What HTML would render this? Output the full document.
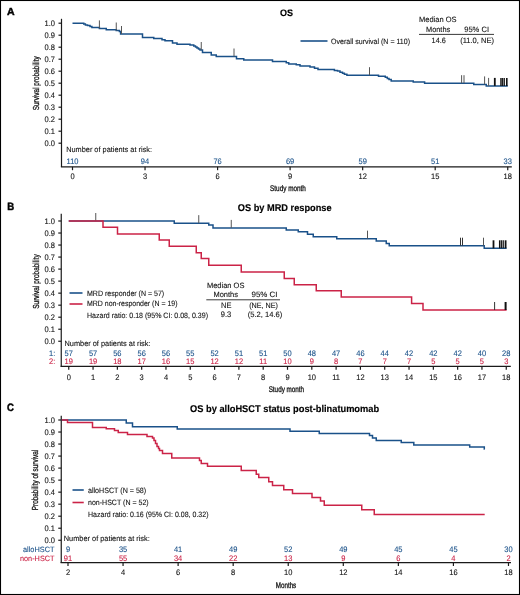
<!DOCTYPE html>
<html><head><meta charset="utf-8"><title>Kaplan-Meier survival curves</title>
<style>
html,body{margin:0;padding:0;background:#fff;}
body{width:520px;height:595px;overflow:hidden;}
svg{display:block;will-change:transform;}
text{font-family:"Liberation Sans", sans-serif;text-rendering:geometricPrecision;}
</style></head>
<body>
<svg width="520" height="595" viewBox="0 0 520 595">
<rect x="0" y="0" width="520" height="595" fill="#fff"/>
<rect x="0.5" y="0.5" width="519" height="594" fill="none" stroke="#000" stroke-width="1.1"/>
<text x="6.9" y="14.8" font-size="10.2" fill="#000" font-weight="bold" textLength="7.6" lengthAdjust="spacingAndGlyphs" stroke="#000" stroke-width="0.45">A</text>
<text x="280.1" y="15.5" font-size="9.4" fill="#000" font-weight="bold" textLength="13" lengthAdjust="spacingAndGlyphs" stroke="#000" stroke-width="0.15">OS</text>
<line x1="61.5" y1="18.8" x2="61.5" y2="167" stroke="#1a1a1a" stroke-width="1.2"/>
<line x1="58.5" y1="23.2" x2="61.5" y2="23.2" stroke="#1a1a1a" stroke-width="1.2"/>
<text x="55" y="25.9" font-size="8.0" fill="#111" text-anchor="end" textLength="10.43" lengthAdjust="spacingAndGlyphs" stroke="#111" stroke-width="0.1">1.0</text>
<line x1="58.5" y1="35.199999999999996" x2="61.5" y2="35.199999999999996" stroke="#1a1a1a" stroke-width="1.2"/>
<text x="55" y="37.9" font-size="8.0" fill="#111" text-anchor="end" textLength="10.43" lengthAdjust="spacingAndGlyphs" stroke="#111" stroke-width="0.1">0.9</text>
<line x1="58.5" y1="47.199999999999996" x2="61.5" y2="47.199999999999996" stroke="#1a1a1a" stroke-width="1.2"/>
<text x="55" y="49.9" font-size="8.0" fill="#111" text-anchor="end" textLength="10.43" lengthAdjust="spacingAndGlyphs" stroke="#111" stroke-width="0.1">0.8</text>
<line x1="58.5" y1="59.19999999999999" x2="61.5" y2="59.19999999999999" stroke="#1a1a1a" stroke-width="1.2"/>
<text x="55" y="61.9" font-size="8.0" fill="#111" text-anchor="end" textLength="10.43" lengthAdjust="spacingAndGlyphs" stroke="#111" stroke-width="0.1">0.7</text>
<line x1="58.5" y1="71.19999999999999" x2="61.5" y2="71.19999999999999" stroke="#1a1a1a" stroke-width="1.2"/>
<text x="55" y="73.9" font-size="8.0" fill="#111" text-anchor="end" textLength="10.43" lengthAdjust="spacingAndGlyphs" stroke="#111" stroke-width="0.1">0.6</text>
<line x1="58.5" y1="83.19999999999999" x2="61.5" y2="83.19999999999999" stroke="#1a1a1a" stroke-width="1.2"/>
<text x="55" y="85.9" font-size="8.0" fill="#111" text-anchor="end" textLength="10.43" lengthAdjust="spacingAndGlyphs" stroke="#111" stroke-width="0.1">0.5</text>
<line x1="58.5" y1="95.19999999999999" x2="61.5" y2="95.19999999999999" stroke="#1a1a1a" stroke-width="1.2"/>
<text x="55" y="97.9" font-size="8.0" fill="#111" text-anchor="end" textLength="10.43" lengthAdjust="spacingAndGlyphs" stroke="#111" stroke-width="0.1">0.4</text>
<line x1="58.5" y1="107.19999999999999" x2="61.5" y2="107.19999999999999" stroke="#1a1a1a" stroke-width="1.2"/>
<text x="55" y="109.9" font-size="8.0" fill="#111" text-anchor="end" textLength="10.43" lengthAdjust="spacingAndGlyphs" stroke="#111" stroke-width="0.1">0.3</text>
<line x1="58.5" y1="119.19999999999999" x2="61.5" y2="119.19999999999999" stroke="#1a1a1a" stroke-width="1.2"/>
<text x="55" y="121.9" font-size="8.0" fill="#111" text-anchor="end" textLength="10.43" lengthAdjust="spacingAndGlyphs" stroke="#111" stroke-width="0.1">0.2</text>
<line x1="58.5" y1="131.19999999999996" x2="61.5" y2="131.19999999999996" stroke="#1a1a1a" stroke-width="1.2"/>
<text x="55" y="133.9" font-size="8.0" fill="#111" text-anchor="end" textLength="10.43" lengthAdjust="spacingAndGlyphs" stroke="#111" stroke-width="0.1">0.1</text>
<line x1="58.5" y1="143.19999999999996" x2="61.5" y2="143.19999999999996" stroke="#1a1a1a" stroke-width="1.2"/>
<text x="55" y="145.9" font-size="8.0" fill="#111" text-anchor="end" textLength="10.43" lengthAdjust="spacingAndGlyphs" stroke="#111" stroke-width="0.1">0.0</text>
<line x1="60.9" y1="166.8" x2="511.8" y2="166.8" stroke="#1a1a1a" stroke-width="1.2"/>
<line x1="72.5" y1="166.8" x2="72.5" y2="170.2" stroke="#1a1a1a" stroke-width="1.2"/>
<text x="72.5" y="178.6" font-size="8.0" fill="#111" text-anchor="middle" textLength="4.17" lengthAdjust="spacingAndGlyphs" stroke="#111" stroke-width="0.1">0</text>
<line x1="145.04" y1="166.8" x2="145.04" y2="170.2" stroke="#1a1a1a" stroke-width="1.2"/>
<text x="145.04" y="178.6" font-size="8.0" fill="#111" text-anchor="middle" textLength="4.17" lengthAdjust="spacingAndGlyphs" stroke="#111" stroke-width="0.1">3</text>
<line x1="217.57999999999998" y1="166.8" x2="217.57999999999998" y2="170.2" stroke="#1a1a1a" stroke-width="1.2"/>
<text x="217.58" y="178.6" font-size="8.0" fill="#111" text-anchor="middle" textLength="4.17" lengthAdjust="spacingAndGlyphs" stroke="#111" stroke-width="0.1">6</text>
<line x1="290.12" y1="166.8" x2="290.12" y2="170.2" stroke="#1a1a1a" stroke-width="1.2"/>
<text x="290.12" y="178.6" font-size="8.0" fill="#111" text-anchor="middle" textLength="4.17" lengthAdjust="spacingAndGlyphs" stroke="#111" stroke-width="0.1">9</text>
<line x1="362.65999999999997" y1="166.8" x2="362.65999999999997" y2="170.2" stroke="#1a1a1a" stroke-width="1.2"/>
<text x="362.66" y="178.6" font-size="8.0" fill="#111" text-anchor="middle" textLength="8.34" lengthAdjust="spacingAndGlyphs" stroke="#111" stroke-width="0.1">12</text>
<line x1="435.2" y1="166.8" x2="435.2" y2="170.2" stroke="#1a1a1a" stroke-width="1.2"/>
<text x="435.2" y="178.6" font-size="8.0" fill="#111" text-anchor="middle" textLength="8.34" lengthAdjust="spacingAndGlyphs" stroke="#111" stroke-width="0.1">15</text>
<line x1="507.74" y1="166.8" x2="507.74" y2="170.2" stroke="#1a1a1a" stroke-width="1.2"/>
<text x="507.74" y="178.6" font-size="8.0" fill="#111" text-anchor="middle" textLength="8.34" lengthAdjust="spacingAndGlyphs" stroke="#111" stroke-width="0.1">18</text>
<text x="288" y="191" font-size="8.2" fill="#111" text-anchor="middle" textLength="35.8" lengthAdjust="spacingAndGlyphs" stroke="#111" stroke-width="0.3">Study month</text>
<text x="0" y="0" font-size="8.7" fill="#111" text-anchor="middle" textLength="54" lengthAdjust="spacingAndGlyphs" stroke="#111" stroke-width="0.3" transform="translate(39.2,83.3) rotate(-90)">Survival probability</text>
<text x="66.2" y="151.5" font-size="7.7" fill="#111" textLength="85.8" lengthAdjust="spacingAndGlyphs" stroke="#111" stroke-width="0.1">Number of patients at risk:</text>
<text x="72.5" y="163.6" font-size="8.0" fill="#1a5189" text-anchor="middle" textLength="11.96" lengthAdjust="spacingAndGlyphs" stroke="#1a5189" stroke-width="0.1">110</text>
<text x="145.04" y="163.6" font-size="8.0" fill="#1a5189" text-anchor="middle" textLength="8.34" lengthAdjust="spacingAndGlyphs" stroke="#1a5189" stroke-width="0.1">94</text>
<text x="217.58" y="163.6" font-size="8.0" fill="#1a5189" text-anchor="middle" textLength="8.34" lengthAdjust="spacingAndGlyphs" stroke="#1a5189" stroke-width="0.1">76</text>
<text x="290.12" y="163.6" font-size="8.0" fill="#1a5189" text-anchor="middle" textLength="8.34" lengthAdjust="spacingAndGlyphs" stroke="#1a5189" stroke-width="0.1">69</text>
<text x="362.66" y="163.6" font-size="8.0" fill="#1a5189" text-anchor="middle" textLength="8.34" lengthAdjust="spacingAndGlyphs" stroke="#1a5189" stroke-width="0.1">59</text>
<text x="435.2" y="163.6" font-size="8.0" fill="#1a5189" text-anchor="middle" textLength="8.34" lengthAdjust="spacingAndGlyphs" stroke="#1a5189" stroke-width="0.1">51</text>
<text x="507.74" y="163.6" font-size="8.0" fill="#1a5189" text-anchor="middle" textLength="8.34" lengthAdjust="spacingAndGlyphs" stroke="#1a5189" stroke-width="0.1">33</text>
<line x1="300.5" y1="41" x2="327.5" y2="41" stroke="#1a5189" stroke-width="1.6"/>
<text x="331" y="43.8" font-size="7.7" fill="#111" textLength="79" lengthAdjust="spacingAndGlyphs" stroke="#111" stroke-width="0.1">Overall survival (N = 110)</text>
<text x="419" y="22.3" font-size="7.7" fill="#111" textLength="37.6" lengthAdjust="spacingAndGlyphs" stroke="#111" stroke-width="0.1">Median OS</text>
<text x="426" y="31.8" font-size="7.7" fill="#111" textLength="24.2" lengthAdjust="spacingAndGlyphs" stroke="#111" stroke-width="0.1">Months</text>
<text x="464.2" y="31.8" font-size="7.7" fill="#111" textLength="24.8" lengthAdjust="spacingAndGlyphs" stroke="#111" stroke-width="0.1">95% CI</text>
<line x1="419" y1="34.4" x2="494" y2="34.4" stroke="#222" stroke-width="0.9"/>
<text x="431.6" y="42.7" font-size="7.7" fill="#111" textLength="14.2" lengthAdjust="spacingAndGlyphs" stroke="#111" stroke-width="0.1">14.6</text>
<text x="460.2" y="42.7" font-size="7.7" fill="#111" textLength="33.8" lengthAdjust="spacingAndGlyphs" stroke="#111" stroke-width="0.1">(11.0, NE)</text>
<path d="M72.5,23.3H83.75V24.1H85.4V24.9H87.5V25.6H90V26.5H91.9V27.4H99.4V28.4H106.25V29.75H116.25V30.5H119.4V31.4H120.6V34H142.5V37.5H153.75V38.5H162V39.75H165V40.75H172.5V43H177V44.25H190V45H193.75V46H195.5V47H197V48H198.5V49H200V50H202.5V52.5H211.25V55H216.25V56.5H236.5V58.8H243.75V60.1H272.5V61.5H286.25V62.8H288.75V64.0H296.25V64.8H300V66.1H310V67.1H314.5V68.3H318V69.6H334.4V70.5H337.5V71.1H340V72.2H342.5V73.3H344.4V74.3H346.9V75.2H378.5V76.2H385.3V77.3H387.3V78.5H389V79.5H391.2V80.9H413.25V82H424.6V83.2H473.75V84.4H486.25V85.9H507.75" fill="none" stroke="#1a5189" stroke-width="1.5"/>
<line x1="99.4" y1="28.4" x2="99.4" y2="20.4" stroke="#555" stroke-width="1"/>
<line x1="116.25" y1="30.5" x2="116.25" y2="22.5" stroke="#555" stroke-width="1"/>
<line x1="121.5" y1="34" x2="121.5" y2="26" stroke="#555" stroke-width="1"/>
<line x1="201.25" y1="50" x2="201.25" y2="42" stroke="#555" stroke-width="1"/>
<line x1="234" y1="56.5" x2="234" y2="48.5" stroke="#555" stroke-width="1"/>
<line x1="369.5" y1="75.2" x2="369.5" y2="67.2" stroke="#555" stroke-width="1"/>
<line x1="461.6" y1="83.2" x2="461.6" y2="75.2" stroke="#555" stroke-width="1"/>
<line x1="464" y1="83.2" x2="464" y2="75.2" stroke="#555" stroke-width="1"/>
<line x1="484.6" y1="84.4" x2="484.6" y2="76.4" stroke="#555" stroke-width="1"/>
<line x1="488.6" y1="85.9" x2="488.6" y2="77.9" stroke="#555" stroke-width="1"/>
<line x1="494.8" y1="85.9" x2="494.8" y2="77.9" stroke="#111" stroke-width="1.8"/>
<line x1="500.9" y1="85.9" x2="500.9" y2="77.9" stroke="#111" stroke-width="1.3"/>
<line x1="502.3" y1="85.9" x2="502.3" y2="77.9" stroke="#111" stroke-width="1.3"/>
<line x1="504.2" y1="85.9" x2="504.2" y2="77.9" stroke="#111" stroke-width="1.4"/>
<line x1="506.8" y1="85.9" x2="506.8" y2="77.9" stroke="#111" stroke-width="1.6"/>
<text x="7.3" y="210.15" font-size="10.6" fill="#000" font-weight="bold" textLength="6.9" lengthAdjust="spacingAndGlyphs" stroke="#000" stroke-width="0.45">B</text>
<text x="237.8" y="210.9" font-size="9.8" fill="#000" font-weight="bold" textLength="93.8" lengthAdjust="spacingAndGlyphs" stroke="#000" stroke-width="0.15">OS by MRD response</text>
<line x1="61.25" y1="213.75" x2="61.25" y2="366.8" stroke="#1a1a1a" stroke-width="1.2"/>
<line x1="58.25" y1="221.0" x2="61.25" y2="221.0" stroke="#1a1a1a" stroke-width="1.2"/>
<text x="55" y="223.7" font-size="8.0" fill="#111" text-anchor="end" textLength="10.43" lengthAdjust="spacingAndGlyphs" stroke="#111" stroke-width="0.1">1.0</text>
<line x1="58.25" y1="233.025" x2="61.25" y2="233.025" stroke="#1a1a1a" stroke-width="1.2"/>
<text x="55" y="235.72" font-size="8.0" fill="#111" text-anchor="end" textLength="10.43" lengthAdjust="spacingAndGlyphs" stroke="#111" stroke-width="0.1">0.9</text>
<line x1="58.25" y1="245.05" x2="61.25" y2="245.05" stroke="#1a1a1a" stroke-width="1.2"/>
<text x="55" y="247.75" font-size="8.0" fill="#111" text-anchor="end" textLength="10.43" lengthAdjust="spacingAndGlyphs" stroke="#111" stroke-width="0.1">0.8</text>
<line x1="58.25" y1="257.075" x2="61.25" y2="257.075" stroke="#1a1a1a" stroke-width="1.2"/>
<text x="55" y="259.77" font-size="8.0" fill="#111" text-anchor="end" textLength="10.43" lengthAdjust="spacingAndGlyphs" stroke="#111" stroke-width="0.1">0.7</text>
<line x1="58.25" y1="269.1" x2="61.25" y2="269.1" stroke="#1a1a1a" stroke-width="1.2"/>
<text x="55" y="271.8" font-size="8.0" fill="#111" text-anchor="end" textLength="10.43" lengthAdjust="spacingAndGlyphs" stroke="#111" stroke-width="0.1">0.6</text>
<line x1="58.25" y1="281.125" x2="61.25" y2="281.125" stroke="#1a1a1a" stroke-width="1.2"/>
<text x="55" y="283.82" font-size="8.0" fill="#111" text-anchor="end" textLength="10.43" lengthAdjust="spacingAndGlyphs" stroke="#111" stroke-width="0.1">0.5</text>
<line x1="58.25" y1="293.15" x2="61.25" y2="293.15" stroke="#1a1a1a" stroke-width="1.2"/>
<text x="55" y="295.85" font-size="8.0" fill="#111" text-anchor="end" textLength="10.43" lengthAdjust="spacingAndGlyphs" stroke="#111" stroke-width="0.1">0.4</text>
<line x1="58.25" y1="305.175" x2="61.25" y2="305.175" stroke="#1a1a1a" stroke-width="1.2"/>
<text x="55" y="307.88" font-size="8.0" fill="#111" text-anchor="end" textLength="10.43" lengthAdjust="spacingAndGlyphs" stroke="#111" stroke-width="0.1">0.3</text>
<line x1="58.25" y1="317.2" x2="61.25" y2="317.2" stroke="#1a1a1a" stroke-width="1.2"/>
<text x="55" y="319.9" font-size="8.0" fill="#111" text-anchor="end" textLength="10.43" lengthAdjust="spacingAndGlyphs" stroke="#111" stroke-width="0.1">0.2</text>
<line x1="58.25" y1="329.225" x2="61.25" y2="329.225" stroke="#1a1a1a" stroke-width="1.2"/>
<text x="55" y="331.93" font-size="8.0" fill="#111" text-anchor="end" textLength="10.43" lengthAdjust="spacingAndGlyphs" stroke="#111" stroke-width="0.1">0.1</text>
<line x1="58.25" y1="341.25" x2="61.25" y2="341.25" stroke="#1a1a1a" stroke-width="1.2"/>
<text x="55" y="343.95" font-size="8.0" fill="#111" text-anchor="end" textLength="10.43" lengthAdjust="spacingAndGlyphs" stroke="#111" stroke-width="0.1">0.0</text>
<line x1="60.6" y1="366.4" x2="510.8" y2="366.4" stroke="#1a1a1a" stroke-width="1.2"/>
<line x1="68.75" y1="366.4" x2="68.75" y2="369.8" stroke="#1a1a1a" stroke-width="1.2"/>
<text x="68.75" y="379.8" font-size="8.0" fill="#111" text-anchor="middle" textLength="4.17" lengthAdjust="spacingAndGlyphs" stroke="#111" stroke-width="0.1">0</text>
<line x1="93.056" y1="366.4" x2="93.056" y2="369.8" stroke="#1a1a1a" stroke-width="1.2"/>
<text x="93.06" y="379.8" font-size="8.0" fill="#111" text-anchor="middle" textLength="4.17" lengthAdjust="spacingAndGlyphs" stroke="#111" stroke-width="0.1">1</text>
<line x1="117.362" y1="366.4" x2="117.362" y2="369.8" stroke="#1a1a1a" stroke-width="1.2"/>
<text x="117.36" y="379.8" font-size="8.0" fill="#111" text-anchor="middle" textLength="4.17" lengthAdjust="spacingAndGlyphs" stroke="#111" stroke-width="0.1">2</text>
<line x1="141.668" y1="366.4" x2="141.668" y2="369.8" stroke="#1a1a1a" stroke-width="1.2"/>
<text x="141.67" y="379.8" font-size="8.0" fill="#111" text-anchor="middle" textLength="4.17" lengthAdjust="spacingAndGlyphs" stroke="#111" stroke-width="0.1">3</text>
<line x1="165.974" y1="366.4" x2="165.974" y2="369.8" stroke="#1a1a1a" stroke-width="1.2"/>
<text x="165.97" y="379.8" font-size="8.0" fill="#111" text-anchor="middle" textLength="4.17" lengthAdjust="spacingAndGlyphs" stroke="#111" stroke-width="0.1">4</text>
<line x1="190.28" y1="366.4" x2="190.28" y2="369.8" stroke="#1a1a1a" stroke-width="1.2"/>
<text x="190.28" y="379.8" font-size="8.0" fill="#111" text-anchor="middle" textLength="4.17" lengthAdjust="spacingAndGlyphs" stroke="#111" stroke-width="0.1">5</text>
<line x1="214.586" y1="366.4" x2="214.586" y2="369.8" stroke="#1a1a1a" stroke-width="1.2"/>
<text x="214.59" y="379.8" font-size="8.0" fill="#111" text-anchor="middle" textLength="4.17" lengthAdjust="spacingAndGlyphs" stroke="#111" stroke-width="0.1">6</text>
<line x1="238.892" y1="366.4" x2="238.892" y2="369.8" stroke="#1a1a1a" stroke-width="1.2"/>
<text x="238.89" y="379.8" font-size="8.0" fill="#111" text-anchor="middle" textLength="4.17" lengthAdjust="spacingAndGlyphs" stroke="#111" stroke-width="0.1">7</text>
<line x1="263.198" y1="366.4" x2="263.198" y2="369.8" stroke="#1a1a1a" stroke-width="1.2"/>
<text x="263.2" y="379.8" font-size="8.0" fill="#111" text-anchor="middle" textLength="4.17" lengthAdjust="spacingAndGlyphs" stroke="#111" stroke-width="0.1">8</text>
<line x1="287.504" y1="366.4" x2="287.504" y2="369.8" stroke="#1a1a1a" stroke-width="1.2"/>
<text x="287.5" y="379.8" font-size="8.0" fill="#111" text-anchor="middle" textLength="4.17" lengthAdjust="spacingAndGlyphs" stroke="#111" stroke-width="0.1">9</text>
<line x1="311.81" y1="366.4" x2="311.81" y2="369.8" stroke="#1a1a1a" stroke-width="1.2"/>
<text x="311.81" y="379.8" font-size="8.0" fill="#111" text-anchor="middle" textLength="8.34" lengthAdjust="spacingAndGlyphs" stroke="#111" stroke-width="0.1">10</text>
<line x1="336.116" y1="366.4" x2="336.116" y2="369.8" stroke="#1a1a1a" stroke-width="1.2"/>
<text x="336.12" y="379.8" font-size="8.0" fill="#111" text-anchor="middle" textLength="7.78" lengthAdjust="spacingAndGlyphs" stroke="#111" stroke-width="0.1">11</text>
<line x1="360.422" y1="366.4" x2="360.422" y2="369.8" stroke="#1a1a1a" stroke-width="1.2"/>
<text x="360.42" y="379.8" font-size="8.0" fill="#111" text-anchor="middle" textLength="8.34" lengthAdjust="spacingAndGlyphs" stroke="#111" stroke-width="0.1">12</text>
<line x1="384.728" y1="366.4" x2="384.728" y2="369.8" stroke="#1a1a1a" stroke-width="1.2"/>
<text x="384.73" y="379.8" font-size="8.0" fill="#111" text-anchor="middle" textLength="8.34" lengthAdjust="spacingAndGlyphs" stroke="#111" stroke-width="0.1">13</text>
<line x1="409.034" y1="366.4" x2="409.034" y2="369.8" stroke="#1a1a1a" stroke-width="1.2"/>
<text x="409.03" y="379.8" font-size="8.0" fill="#111" text-anchor="middle" textLength="8.34" lengthAdjust="spacingAndGlyphs" stroke="#111" stroke-width="0.1">14</text>
<line x1="433.34000000000003" y1="366.4" x2="433.34000000000003" y2="369.8" stroke="#1a1a1a" stroke-width="1.2"/>
<text x="433.34" y="379.8" font-size="8.0" fill="#111" text-anchor="middle" textLength="8.34" lengthAdjust="spacingAndGlyphs" stroke="#111" stroke-width="0.1">15</text>
<line x1="457.646" y1="366.4" x2="457.646" y2="369.8" stroke="#1a1a1a" stroke-width="1.2"/>
<text x="457.65" y="379.8" font-size="8.0" fill="#111" text-anchor="middle" textLength="8.34" lengthAdjust="spacingAndGlyphs" stroke="#111" stroke-width="0.1">16</text>
<line x1="481.952" y1="366.4" x2="481.952" y2="369.8" stroke="#1a1a1a" stroke-width="1.2"/>
<text x="481.95" y="379.8" font-size="8.0" fill="#111" text-anchor="middle" textLength="8.34" lengthAdjust="spacingAndGlyphs" stroke="#111" stroke-width="0.1">17</text>
<line x1="506.25800000000004" y1="366.4" x2="506.25800000000004" y2="369.8" stroke="#1a1a1a" stroke-width="1.2"/>
<text x="506.26" y="379.8" font-size="8.0" fill="#111" text-anchor="middle" textLength="8.34" lengthAdjust="spacingAndGlyphs" stroke="#111" stroke-width="0.1">18</text>
<text x="286.4" y="392.1" font-size="8.2" fill="#111" text-anchor="middle" textLength="35.5" lengthAdjust="spacingAndGlyphs" stroke="#111" stroke-width="0.3">Study month</text>
<text x="0" y="0" font-size="8.7" fill="#111" text-anchor="middle" textLength="54.5" lengthAdjust="spacingAndGlyphs" stroke="#111" stroke-width="0.3" transform="translate(39.0,281.5) rotate(-90)">Survival probability</text>
<text x="64.5" y="345.5" font-size="7.7" fill="#111" textLength="86" lengthAdjust="spacingAndGlyphs" stroke="#111" stroke-width="0.1">Number of patients at risk:</text>
<text x="55.3" y="355.6" font-size="8.0" fill="#1a5189" text-anchor="end" textLength="6.25" lengthAdjust="spacingAndGlyphs" stroke="#1a5189" stroke-width="0.1">1:</text>
<text x="55.3" y="364.0" font-size="8.0" fill="#cb2347" text-anchor="end" textLength="6.25" lengthAdjust="spacingAndGlyphs" stroke="#cb2347" stroke-width="0.1">2:</text>
<text x="68.75" y="355.6" font-size="8.0" fill="#1a5189" text-anchor="middle" textLength="8.34" lengthAdjust="spacingAndGlyphs" stroke="#1a5189" stroke-width="0.1">57</text>
<text x="68.75" y="364.0" font-size="8.0" fill="#cb2347" text-anchor="middle" textLength="8.34" lengthAdjust="spacingAndGlyphs" stroke="#cb2347" stroke-width="0.1">19</text>
<text x="93.06" y="355.6" font-size="8.0" fill="#1a5189" text-anchor="middle" textLength="8.34" lengthAdjust="spacingAndGlyphs" stroke="#1a5189" stroke-width="0.1">57</text>
<text x="93.06" y="364.0" font-size="8.0" fill="#cb2347" text-anchor="middle" textLength="8.34" lengthAdjust="spacingAndGlyphs" stroke="#cb2347" stroke-width="0.1">19</text>
<text x="117.36" y="355.6" font-size="8.0" fill="#1a5189" text-anchor="middle" textLength="8.34" lengthAdjust="spacingAndGlyphs" stroke="#1a5189" stroke-width="0.1">56</text>
<text x="117.36" y="364.0" font-size="8.0" fill="#cb2347" text-anchor="middle" textLength="8.34" lengthAdjust="spacingAndGlyphs" stroke="#cb2347" stroke-width="0.1">18</text>
<text x="141.67" y="355.6" font-size="8.0" fill="#1a5189" text-anchor="middle" textLength="8.34" lengthAdjust="spacingAndGlyphs" stroke="#1a5189" stroke-width="0.1">56</text>
<text x="141.67" y="364.0" font-size="8.0" fill="#cb2347" text-anchor="middle" textLength="8.34" lengthAdjust="spacingAndGlyphs" stroke="#cb2347" stroke-width="0.1">17</text>
<text x="165.97" y="355.6" font-size="8.0" fill="#1a5189" text-anchor="middle" textLength="8.34" lengthAdjust="spacingAndGlyphs" stroke="#1a5189" stroke-width="0.1">56</text>
<text x="165.97" y="364.0" font-size="8.0" fill="#cb2347" text-anchor="middle" textLength="8.34" lengthAdjust="spacingAndGlyphs" stroke="#cb2347" stroke-width="0.1">16</text>
<text x="190.28" y="355.6" font-size="8.0" fill="#1a5189" text-anchor="middle" textLength="8.34" lengthAdjust="spacingAndGlyphs" stroke="#1a5189" stroke-width="0.1">55</text>
<text x="190.28" y="364.0" font-size="8.0" fill="#cb2347" text-anchor="middle" textLength="8.34" lengthAdjust="spacingAndGlyphs" stroke="#cb2347" stroke-width="0.1">15</text>
<text x="214.59" y="355.6" font-size="8.0" fill="#1a5189" text-anchor="middle" textLength="8.34" lengthAdjust="spacingAndGlyphs" stroke="#1a5189" stroke-width="0.1">52</text>
<text x="214.59" y="364.0" font-size="8.0" fill="#cb2347" text-anchor="middle" textLength="8.34" lengthAdjust="spacingAndGlyphs" stroke="#cb2347" stroke-width="0.1">12</text>
<text x="238.89" y="355.6" font-size="8.0" fill="#1a5189" text-anchor="middle" textLength="8.34" lengthAdjust="spacingAndGlyphs" stroke="#1a5189" stroke-width="0.1">51</text>
<text x="238.89" y="364.0" font-size="8.0" fill="#cb2347" text-anchor="middle" textLength="8.34" lengthAdjust="spacingAndGlyphs" stroke="#cb2347" stroke-width="0.1">12</text>
<text x="263.2" y="355.6" font-size="8.0" fill="#1a5189" text-anchor="middle" textLength="8.34" lengthAdjust="spacingAndGlyphs" stroke="#1a5189" stroke-width="0.1">51</text>
<text x="263.2" y="364.0" font-size="8.0" fill="#cb2347" text-anchor="middle" textLength="7.78" lengthAdjust="spacingAndGlyphs" stroke="#cb2347" stroke-width="0.1">11</text>
<text x="287.5" y="355.6" font-size="8.0" fill="#1a5189" text-anchor="middle" textLength="8.34" lengthAdjust="spacingAndGlyphs" stroke="#1a5189" stroke-width="0.1">50</text>
<text x="287.5" y="364.0" font-size="8.0" fill="#cb2347" text-anchor="middle" textLength="8.34" lengthAdjust="spacingAndGlyphs" stroke="#cb2347" stroke-width="0.1">10</text>
<text x="311.81" y="355.6" font-size="8.0" fill="#1a5189" text-anchor="middle" textLength="8.34" lengthAdjust="spacingAndGlyphs" stroke="#1a5189" stroke-width="0.1">48</text>
<text x="311.81" y="364.0" font-size="8.0" fill="#cb2347" text-anchor="middle" textLength="4.17" lengthAdjust="spacingAndGlyphs" stroke="#cb2347" stroke-width="0.1">9</text>
<text x="336.12" y="355.6" font-size="8.0" fill="#1a5189" text-anchor="middle" textLength="8.34" lengthAdjust="spacingAndGlyphs" stroke="#1a5189" stroke-width="0.1">47</text>
<text x="336.12" y="364.0" font-size="8.0" fill="#cb2347" text-anchor="middle" textLength="4.17" lengthAdjust="spacingAndGlyphs" stroke="#cb2347" stroke-width="0.1">8</text>
<text x="360.42" y="355.6" font-size="8.0" fill="#1a5189" text-anchor="middle" textLength="8.34" lengthAdjust="spacingAndGlyphs" stroke="#1a5189" stroke-width="0.1">46</text>
<text x="360.42" y="364.0" font-size="8.0" fill="#cb2347" text-anchor="middle" textLength="4.17" lengthAdjust="spacingAndGlyphs" stroke="#cb2347" stroke-width="0.1">7</text>
<text x="384.73" y="355.6" font-size="8.0" fill="#1a5189" text-anchor="middle" textLength="8.34" lengthAdjust="spacingAndGlyphs" stroke="#1a5189" stroke-width="0.1">44</text>
<text x="384.73" y="364.0" font-size="8.0" fill="#cb2347" text-anchor="middle" textLength="4.17" lengthAdjust="spacingAndGlyphs" stroke="#cb2347" stroke-width="0.1">7</text>
<text x="409.03" y="355.6" font-size="8.0" fill="#1a5189" text-anchor="middle" textLength="8.34" lengthAdjust="spacingAndGlyphs" stroke="#1a5189" stroke-width="0.1">42</text>
<text x="409.03" y="364.0" font-size="8.0" fill="#cb2347" text-anchor="middle" textLength="4.17" lengthAdjust="spacingAndGlyphs" stroke="#cb2347" stroke-width="0.1">7</text>
<text x="433.34" y="355.6" font-size="8.0" fill="#1a5189" text-anchor="middle" textLength="8.34" lengthAdjust="spacingAndGlyphs" stroke="#1a5189" stroke-width="0.1">42</text>
<text x="433.34" y="364.0" font-size="8.0" fill="#cb2347" text-anchor="middle" textLength="4.17" lengthAdjust="spacingAndGlyphs" stroke="#cb2347" stroke-width="0.1">5</text>
<text x="457.65" y="355.6" font-size="8.0" fill="#1a5189" text-anchor="middle" textLength="8.34" lengthAdjust="spacingAndGlyphs" stroke="#1a5189" stroke-width="0.1">42</text>
<text x="457.65" y="364.0" font-size="8.0" fill="#cb2347" text-anchor="middle" textLength="4.17" lengthAdjust="spacingAndGlyphs" stroke="#cb2347" stroke-width="0.1">5</text>
<text x="481.95" y="355.6" font-size="8.0" fill="#1a5189" text-anchor="middle" textLength="8.34" lengthAdjust="spacingAndGlyphs" stroke="#1a5189" stroke-width="0.1">40</text>
<text x="481.95" y="364.0" font-size="8.0" fill="#cb2347" text-anchor="middle" textLength="4.17" lengthAdjust="spacingAndGlyphs" stroke="#cb2347" stroke-width="0.1">5</text>
<text x="506.26" y="355.6" font-size="8.0" fill="#1a5189" text-anchor="middle" textLength="8.34" lengthAdjust="spacingAndGlyphs" stroke="#1a5189" stroke-width="0.1">28</text>
<text x="506.26" y="364.0" font-size="8.0" fill="#cb2347" text-anchor="middle" textLength="4.17" lengthAdjust="spacingAndGlyphs" stroke="#cb2347" stroke-width="0.1">3</text>
<line x1="69.5" y1="293" x2="82.5" y2="293" stroke="#1a5189" stroke-width="1.6"/>
<line x1="69.5" y1="304" x2="82.5" y2="304" stroke="#cb2347" stroke-width="1.6"/>
<text x="87" y="295.5" font-size="7.7" fill="#111" textLength="77.2" lengthAdjust="spacingAndGlyphs" stroke="#111" stroke-width="0.1">MRD responder (N = 57)</text>
<text x="87" y="305.8" font-size="7.7" fill="#111" textLength="90.5" lengthAdjust="spacingAndGlyphs" stroke="#111" stroke-width="0.1">MRD non-responder (N = 19)</text>
<text x="87" y="317.5" font-size="7.7" fill="#111" textLength="121" lengthAdjust="spacingAndGlyphs" stroke="#111" stroke-width="0.1">Hazard ratio: 0.18 (95% CI: 0.08, 0.39)</text>
<text x="206.9" y="287.7" font-size="7.7" fill="#111" textLength="37.5" lengthAdjust="spacingAndGlyphs" stroke="#111" stroke-width="0.1">Median OS</text>
<text x="213.5" y="296.9" font-size="7.7" fill="#111" textLength="24.5" lengthAdjust="spacingAndGlyphs" stroke="#111" stroke-width="0.1">Months</text>
<text x="251.5" y="296.9" font-size="7.7" fill="#111" textLength="26" lengthAdjust="spacingAndGlyphs" stroke="#111" stroke-width="0.1">95% CI</text>
<line x1="206.3" y1="299.8" x2="280" y2="299.8" stroke="#222" stroke-width="0.9"/>
<text x="226.2" y="307.5" font-size="8.0" fill="#111" text-anchor="middle" textLength="10.42" lengthAdjust="spacingAndGlyphs" stroke="#111" stroke-width="0.1">NE</text>
<text x="249.2" y="307.5" font-size="7.7" fill="#111" textLength="28.8" lengthAdjust="spacingAndGlyphs" stroke="#111" stroke-width="0.1">(NE, NE)</text>
<text x="226" y="317.1" font-size="8.0" fill="#111" text-anchor="middle" textLength="10.43" lengthAdjust="spacingAndGlyphs" stroke="#111" stroke-width="0.1">9.3</text>
<text x="247.7" y="317.1" font-size="7.7" fill="#111" textLength="34.6" lengthAdjust="spacingAndGlyphs" stroke="#111" stroke-width="0.1">(5.2, 14.6)</text>
<path d="M68.75,221H174.25V223.15H208.75V224.9H213V227.9H286.25V229.9H298.25V231.8H307.5V234.15H313.25V236.65H336.75V238.65H376.25V240.9H386.25V243.4H389.25V245.7H484.2V248.3H506.6" fill="none" stroke="#1a5189" stroke-width="1.5"/>
<line x1="95.75" y1="221" x2="95.75" y2="213" stroke="#555" stroke-width="1"/>
<line x1="198.75" y1="223.15" x2="198.75" y2="215.15" stroke="#555" stroke-width="1"/>
<line x1="231.25" y1="227.9" x2="231.25" y2="219.9" stroke="#555" stroke-width="1"/>
<line x1="367.5" y1="238.65" x2="367.5" y2="230.65" stroke="#555" stroke-width="1"/>
<line x1="460.5" y1="245.7" x2="460.5" y2="237.7" stroke="#333" stroke-width="1"/>
<line x1="462.5" y1="245.7" x2="462.5" y2="237.7" stroke="#333" stroke-width="1"/>
<line x1="483.5" y1="245.7" x2="483.5" y2="237.7" stroke="#555" stroke-width="1"/>
<line x1="493.5" y1="248.3" x2="493.5" y2="240.3" stroke="#111" stroke-width="1.8"/>
<line x1="499.6" y1="248.3" x2="499.6" y2="240.3" stroke="#111" stroke-width="1.3"/>
<line x1="501.3" y1="248.3" x2="501.3" y2="240.3" stroke="#111" stroke-width="1.3"/>
<line x1="503.2" y1="248.3" x2="503.2" y2="240.3" stroke="#111" stroke-width="1.3"/>
<line x1="505.6" y1="248.3" x2="505.6" y2="240.3" stroke="#111" stroke-width="1.8"/>
<path d="M68.75,221H103V227.2H117.5V233.95H159.25V239.95H169.25V246.2H196.25V252.7H201.25V258.45H208.75V265.2H241.25V271.95H284.25V278.45H294.25V284.7H316.25V290.7H341.25V296.95H411.6V303.4H423V310.0H506.6" fill="none" stroke="#cb2347" stroke-width="1.5"/>
<line x1="494.6" y1="310.0" x2="494.6" y2="302.0" stroke="#333" stroke-width="1"/>
<line x1="505.6" y1="310.0" x2="505.6" y2="302.0" stroke="#111" stroke-width="2"/>
<text x="7.0" y="411.4" font-size="10.8" fill="#000" font-weight="bold" textLength="6.9" lengthAdjust="spacingAndGlyphs" stroke="#000" stroke-width="0.45">C</text>
<text x="190.1" y="412" font-size="9.8" fill="#000" font-weight="bold" textLength="189" lengthAdjust="spacingAndGlyphs" stroke="#000" stroke-width="0.15">OS by alloHSCT status post-blinatumomab</text>
<line x1="61.25" y1="415.75" x2="61.25" y2="563" stroke="#1a1a1a" stroke-width="1.2"/>
<line x1="58.25" y1="420.0" x2="61.25" y2="420.0" stroke="#1a1a1a" stroke-width="1.2"/>
<text x="55" y="422.7" font-size="8.0" fill="#111" text-anchor="end" textLength="10.43" lengthAdjust="spacingAndGlyphs" stroke="#111" stroke-width="0.1">1.0</text>
<line x1="58.25" y1="432.025" x2="61.25" y2="432.025" stroke="#1a1a1a" stroke-width="1.2"/>
<text x="55" y="434.72" font-size="8.0" fill="#111" text-anchor="end" textLength="10.43" lengthAdjust="spacingAndGlyphs" stroke="#111" stroke-width="0.1">0.9</text>
<line x1="58.25" y1="444.05" x2="61.25" y2="444.05" stroke="#1a1a1a" stroke-width="1.2"/>
<text x="55" y="446.75" font-size="8.0" fill="#111" text-anchor="end" textLength="10.43" lengthAdjust="spacingAndGlyphs" stroke="#111" stroke-width="0.1">0.8</text>
<line x1="58.25" y1="456.075" x2="61.25" y2="456.075" stroke="#1a1a1a" stroke-width="1.2"/>
<text x="55" y="458.77" font-size="8.0" fill="#111" text-anchor="end" textLength="10.43" lengthAdjust="spacingAndGlyphs" stroke="#111" stroke-width="0.1">0.7</text>
<line x1="58.25" y1="468.1" x2="61.25" y2="468.1" stroke="#1a1a1a" stroke-width="1.2"/>
<text x="55" y="470.8" font-size="8.0" fill="#111" text-anchor="end" textLength="10.43" lengthAdjust="spacingAndGlyphs" stroke="#111" stroke-width="0.1">0.6</text>
<line x1="58.25" y1="480.125" x2="61.25" y2="480.125" stroke="#1a1a1a" stroke-width="1.2"/>
<text x="55" y="482.82" font-size="8.0" fill="#111" text-anchor="end" textLength="10.43" lengthAdjust="spacingAndGlyphs" stroke="#111" stroke-width="0.1">0.5</text>
<line x1="58.25" y1="492.15" x2="61.25" y2="492.15" stroke="#1a1a1a" stroke-width="1.2"/>
<text x="55" y="494.85" font-size="8.0" fill="#111" text-anchor="end" textLength="10.43" lengthAdjust="spacingAndGlyphs" stroke="#111" stroke-width="0.1">0.4</text>
<line x1="58.25" y1="504.175" x2="61.25" y2="504.175" stroke="#1a1a1a" stroke-width="1.2"/>
<text x="55" y="506.88" font-size="8.0" fill="#111" text-anchor="end" textLength="10.43" lengthAdjust="spacingAndGlyphs" stroke="#111" stroke-width="0.1">0.3</text>
<line x1="58.25" y1="516.2" x2="61.25" y2="516.2" stroke="#1a1a1a" stroke-width="1.2"/>
<text x="55" y="518.9" font-size="8.0" fill="#111" text-anchor="end" textLength="10.43" lengthAdjust="spacingAndGlyphs" stroke="#111" stroke-width="0.1">0.2</text>
<line x1="58.25" y1="528.225" x2="61.25" y2="528.225" stroke="#1a1a1a" stroke-width="1.2"/>
<text x="55" y="530.93" font-size="8.0" fill="#111" text-anchor="end" textLength="10.43" lengthAdjust="spacingAndGlyphs" stroke="#111" stroke-width="0.1">0.1</text>
<line x1="58.25" y1="540.25" x2="61.25" y2="540.25" stroke="#1a1a1a" stroke-width="1.2"/>
<text x="55" y="542.95" font-size="8.0" fill="#111" text-anchor="end" textLength="10.43" lengthAdjust="spacingAndGlyphs" stroke="#111" stroke-width="0.1">0.0</text>
<line x1="60.6" y1="562.6" x2="511" y2="562.6" stroke="#1a1a1a" stroke-width="1.2"/>
<line x1="68.0" y1="562.6" x2="68.0" y2="566" stroke="#1a1a1a" stroke-width="1.2"/>
<text x="68.0" y="574.8" font-size="8.0" fill="#111" text-anchor="middle" textLength="4.17" lengthAdjust="spacingAndGlyphs" stroke="#111" stroke-width="0.1">2</text>
<line x1="123.06" y1="562.6" x2="123.06" y2="566" stroke="#1a1a1a" stroke-width="1.2"/>
<text x="123.06" y="574.8" font-size="8.0" fill="#111" text-anchor="middle" textLength="4.17" lengthAdjust="spacingAndGlyphs" stroke="#111" stroke-width="0.1">4</text>
<line x1="178.12" y1="562.6" x2="178.12" y2="566" stroke="#1a1a1a" stroke-width="1.2"/>
<text x="178.12" y="574.8" font-size="8.0" fill="#111" text-anchor="middle" textLength="4.17" lengthAdjust="spacingAndGlyphs" stroke="#111" stroke-width="0.1">6</text>
<line x1="233.18" y1="562.6" x2="233.18" y2="566" stroke="#1a1a1a" stroke-width="1.2"/>
<text x="233.18" y="574.8" font-size="8.0" fill="#111" text-anchor="middle" textLength="4.17" lengthAdjust="spacingAndGlyphs" stroke="#111" stroke-width="0.1">8</text>
<line x1="288.24" y1="562.6" x2="288.24" y2="566" stroke="#1a1a1a" stroke-width="1.2"/>
<text x="288.24" y="574.8" font-size="8.0" fill="#111" text-anchor="middle" textLength="8.34" lengthAdjust="spacingAndGlyphs" stroke="#111" stroke-width="0.1">10</text>
<line x1="343.3" y1="562.6" x2="343.3" y2="566" stroke="#1a1a1a" stroke-width="1.2"/>
<text x="343.3" y="574.8" font-size="8.0" fill="#111" text-anchor="middle" textLength="8.34" lengthAdjust="spacingAndGlyphs" stroke="#111" stroke-width="0.1">12</text>
<line x1="398.36" y1="562.6" x2="398.36" y2="566" stroke="#1a1a1a" stroke-width="1.2"/>
<text x="398.36" y="574.8" font-size="8.0" fill="#111" text-anchor="middle" textLength="8.34" lengthAdjust="spacingAndGlyphs" stroke="#111" stroke-width="0.1">14</text>
<line x1="453.42" y1="562.6" x2="453.42" y2="566" stroke="#1a1a1a" stroke-width="1.2"/>
<text x="453.42" y="574.8" font-size="8.0" fill="#111" text-anchor="middle" textLength="8.34" lengthAdjust="spacingAndGlyphs" stroke="#111" stroke-width="0.1">16</text>
<line x1="508.48" y1="562.6" x2="508.48" y2="566" stroke="#1a1a1a" stroke-width="1.2"/>
<text x="508.48" y="574.8" font-size="8.0" fill="#111" text-anchor="middle" textLength="8.34" lengthAdjust="spacingAndGlyphs" stroke="#111" stroke-width="0.1">18</text>
<text x="286" y="588" font-size="8.2" fill="#111" text-anchor="middle" textLength="20.5" lengthAdjust="spacingAndGlyphs" stroke="#111" stroke-width="0.3">Months</text>
<text x="0" y="0" font-size="8.8" fill="#111" text-anchor="middle" textLength="60.5" lengthAdjust="spacingAndGlyphs" stroke="#111" stroke-width="0.3" transform="translate(38.0,480) rotate(-90)">Probability of survival</text>
<text x="63.8" y="540.5" font-size="7.7" fill="#111" textLength="86" lengthAdjust="spacingAndGlyphs" stroke="#111" stroke-width="0.1">Number of patients at risk:</text>
<text x="54.5" y="552.0" font-size="7.7" fill="#1a5189" text-anchor="end" textLength="31.5" lengthAdjust="spacingAndGlyphs" stroke="#1a5189" stroke-width="0.1">alloHSCT</text>
<text x="54.5" y="560.5" font-size="7.7" fill="#cb2347" text-anchor="end" textLength="34.5" lengthAdjust="spacingAndGlyphs" stroke="#cb2347" stroke-width="0.1">non-HSCT</text>
<text x="68.0" y="552.0" font-size="8.0" fill="#1a5189" text-anchor="middle" textLength="4.17" lengthAdjust="spacingAndGlyphs" stroke="#1a5189" stroke-width="0.1">9</text>
<text x="68.0" y="560.5" font-size="8.0" fill="#cb2347" text-anchor="middle" textLength="8.34" lengthAdjust="spacingAndGlyphs" stroke="#cb2347" stroke-width="0.1">91</text>
<text x="123.06" y="552.0" font-size="8.0" fill="#1a5189" text-anchor="middle" textLength="8.34" lengthAdjust="spacingAndGlyphs" stroke="#1a5189" stroke-width="0.1">35</text>
<text x="123.06" y="560.5" font-size="8.0" fill="#cb2347" text-anchor="middle" textLength="8.34" lengthAdjust="spacingAndGlyphs" stroke="#cb2347" stroke-width="0.1">55</text>
<text x="178.12" y="552.0" font-size="8.0" fill="#1a5189" text-anchor="middle" textLength="8.34" lengthAdjust="spacingAndGlyphs" stroke="#1a5189" stroke-width="0.1">41</text>
<text x="178.12" y="560.5" font-size="8.0" fill="#cb2347" text-anchor="middle" textLength="8.34" lengthAdjust="spacingAndGlyphs" stroke="#cb2347" stroke-width="0.1">34</text>
<text x="233.18" y="552.0" font-size="8.0" fill="#1a5189" text-anchor="middle" textLength="8.34" lengthAdjust="spacingAndGlyphs" stroke="#1a5189" stroke-width="0.1">49</text>
<text x="233.18" y="560.5" font-size="8.0" fill="#cb2347" text-anchor="middle" textLength="8.34" lengthAdjust="spacingAndGlyphs" stroke="#cb2347" stroke-width="0.1">22</text>
<text x="288.24" y="552.0" font-size="8.0" fill="#1a5189" text-anchor="middle" textLength="8.34" lengthAdjust="spacingAndGlyphs" stroke="#1a5189" stroke-width="0.1">52</text>
<text x="288.24" y="560.5" font-size="8.0" fill="#cb2347" text-anchor="middle" textLength="8.34" lengthAdjust="spacingAndGlyphs" stroke="#cb2347" stroke-width="0.1">13</text>
<text x="343.3" y="552.0" font-size="8.0" fill="#1a5189" text-anchor="middle" textLength="8.34" lengthAdjust="spacingAndGlyphs" stroke="#1a5189" stroke-width="0.1">49</text>
<text x="343.3" y="560.5" font-size="8.0" fill="#cb2347" text-anchor="middle" textLength="4.17" lengthAdjust="spacingAndGlyphs" stroke="#cb2347" stroke-width="0.1">9</text>
<text x="398.36" y="552.0" font-size="8.0" fill="#1a5189" text-anchor="middle" textLength="8.34" lengthAdjust="spacingAndGlyphs" stroke="#1a5189" stroke-width="0.1">45</text>
<text x="398.36" y="560.5" font-size="8.0" fill="#cb2347" text-anchor="middle" textLength="4.17" lengthAdjust="spacingAndGlyphs" stroke="#cb2347" stroke-width="0.1">6</text>
<text x="453.42" y="552.0" font-size="8.0" fill="#1a5189" text-anchor="middle" textLength="8.34" lengthAdjust="spacingAndGlyphs" stroke="#1a5189" stroke-width="0.1">45</text>
<text x="453.42" y="560.5" font-size="8.0" fill="#cb2347" text-anchor="middle" textLength="4.17" lengthAdjust="spacingAndGlyphs" stroke="#cb2347" stroke-width="0.1">4</text>
<text x="508.48" y="552.0" font-size="8.0" fill="#1a5189" text-anchor="middle" textLength="8.34" lengthAdjust="spacingAndGlyphs" stroke="#1a5189" stroke-width="0.1">30</text>
<text x="508.48" y="560.5" font-size="8.0" fill="#cb2347" text-anchor="middle" textLength="4.17" lengthAdjust="spacingAndGlyphs" stroke="#cb2347" stroke-width="0.1">2</text>
<line x1="72.5" y1="490" x2="83.75" y2="490" stroke="#1a5189" stroke-width="1.6"/>
<line x1="72.5" y1="502.5" x2="83.75" y2="502.5" stroke="#cb2347" stroke-width="1.6"/>
<text x="88" y="492.6" font-size="7.7" fill="#111" textLength="58.2" lengthAdjust="spacingAndGlyphs" stroke="#111" stroke-width="0.1">alloHSCT (N = 58)</text>
<text x="88" y="505.0" font-size="7.7" fill="#111" textLength="60.7" lengthAdjust="spacingAndGlyphs" stroke="#111" stroke-width="0.1">non-HSCT (N = 52)</text>
<text x="88" y="517.2" font-size="7.7" fill="#111" textLength="120.5" lengthAdjust="spacingAndGlyphs" stroke="#111" stroke-width="0.1">Hazard ratio: 0.16 (95% CI: 0.08, 0.32)</text>
<path d="M61.9,420H126.25V422.9H132.5V426.65H177.25V428.9H290V431.15H319.25V433.4H369.5V435.4H372.5V437.9H376.25V440.4H401.25V442.4H413.8V444.9H469.7V446.9H484.3V448.9H484.8" fill="none" stroke="#1a5189" stroke-width="1.5"/>
<path d="M61.9,420H67.5V422.4H92.5V427.4H106.25V428.65H114.5V430.4H118.25V432.4H127.5V434.4H147V436.4H152.5V437.9H154V440.4H155.5V443.4H157V446.4H158.5V448.4H159.5V450.4H162.5V453.4H171.75V457.9H199.5V460.4H201.25V463.4H207.5V466.15H241.25V470.4H256.25V474.15H258.75V477.4H268.75V481.65H272.5V485.4H283.75V489.65H292.5V493.4H312V497.4H320.5V500.9H324.25V505.15H361.75V509.65H374.25V514.6H484.7" fill="none" stroke="#cb2347" stroke-width="1.5"/>
</svg>
</body></html>
